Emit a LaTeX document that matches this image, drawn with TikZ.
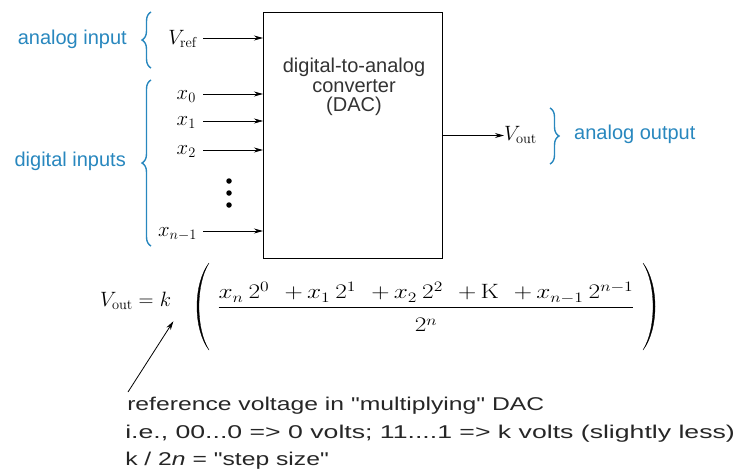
\documentclass[tikz,border=0pt]{standalone}
\usepackage{amsmath}
\usepackage{fontspec}
\setsansfont{Liberation Sans}
\usetikzlibrary{arrows.meta,decorations.pathreplacing}
\definecolor{lblue}{RGB}{40,135,190}
\tikzset{
  arr/.style={-{Stealth[length=9pt,width=5pt]}, line width=0.8pt},
  blab/.style={text=lblue, font=\sffamily\fontsize{20}{22}\selectfont, inner sep=0pt},
  brc/.style={draw=lblue, line width=1.4pt, decorate, decoration={brace, amplitude=9pt}},
  inl/.style={font=\fontsize{20.74}{24}\selectfont, inner sep=0pt, anchor=base east},
  boxtxt/.style={font=\sffamily\fontsize{20}{19.5}\selectfont, align=center, text=black!80},
  eqf/.style={font=\fontsize{20.74}{24}\selectfont, inner sep=0pt},
  note/.style={font=\sffamily\fontsize{18.5}{21}\selectfont, inner sep=0pt, anchor=base west, text=black!85},
  dotn/.style={circle, fill=black, inner sep=0pt, minimum size=5.5pt},
  paren/.style={fill=black, draw=black, line width=0.3pt}
}
\newcommand{\pl}{\hspace{0.6em}{+}\,}
\newcommand{\tm}{\hspace{0.2em}}
\begin{document}
\begin{tikzpicture}[x=1pt,y=-1pt]
\useasboundingbox (0,0) rectangle (738,474);
% DAC box
\node[draw, line width=1pt, minimum width=179, minimum height=246, anchor=north west, inner sep=0pt] (dac) at (263,12) {};
\node[boxtxt] (dactxt) at (354,87) {digital-to-analog\\converter\\(DAC)};
% inputs
\node[inl] (vref) at (197,44) {$V_{\mathrm{ref}}$};
\node[inl] (x0) at (196,99) {$x_0$};
\node[inl] (x1) at (196,125) {$x_1$};
\node[inl] (x2) at (196,154) {$x_2$};
\node[inl] (xn) at (197,236) {$x_{n-1}$};
\coordinate (a0) at (203,38);
\coordinate (a1) at (203,94);
\coordinate (a2) at (203,121);
\coordinate (a3) at (203,150);
\coordinate (a4) at (203,231);
\draw[arr] (a0) -- (a0 -| dac.west);
\draw[arr] (a1) -- (a1 -| dac.west);
\draw[arr, line width=0.5pt] (a2) -- (a2 -| dac.west);
\draw[arr] (a3) -- (a3 -| dac.west);
\draw[arr] (a4) -- (a4 -| dac.west);
\node[dotn] (d1) at (229,181) {};
\node[dotn] (d2) at (229,193) {};
\node[dotn] (d3) at (229,205) {};
% braces & labels
\coordinate (b1s) at (151,68);
\coordinate (b1e) at (151,12);
\draw[brc] (b1s) -- (b1e);
\node[blab, anchor=base east] (ain) at (127,44) {analog input};
\coordinate (b2s) at (151,246);
\coordinate (b2e) at (151,80);
\draw[brc] (b2s) -- (b2e);
\node[blab, anchor=base east] (din) at (126,166) {digital inputs};
% output
\node[inl, anchor=base west] (vout) at (504,140) {$V_{\mathrm{out}}$};
\draw[arr] (dac.east) -- (vout.west |- dac.east);
\coordinate (b3s) at (550,108);
\coordinate (b3e) at (550,164);
\draw[brc] (b3s) -- (b3e);
\node[blab, anchor=base west] (aout) at (574,139) {analog output};
% equation
\node[eqf, anchor=base west] (lhs) at (100,306) {$V_{\mathrm{out}} = {}$};
\node[eqf, anchor=base west] (kk) at (lhs.base east) {$k$};
\node[eqf, anchor=base, xscale=1.22] (frac) at (426,313) {$\dfrac{x_{n}\tm 2^{0}\pl x_{1}\tm 2^{1}\pl x_{2}\tm 2^{2}\pl\mathrm{K}\pl x_{n-1}\tm 2^{n-1}}{\rule{0pt}{21pt}2^{n}}$};
% big parentheses
\path[paren] (209,263) .. controls (193,284) and (193,329) .. (209,350)
  .. controls (195.6,329) and (195.6,284) .. (209,263) -- cycle;
\path[paren] (643,263) .. controls (659,284) and (659,329) .. (643,350)
  .. controls (656.4,329) and (656.4,284) .. (643,263) -- cycle;
% notes
\node[note, xscale=1.335] (n1) at (127,410) {reference voltage in \textquotedbl multiplying\textquotedbl{} DAC};
\node[note, xscale=1.44] (n2) at (125,438) {i.e., 00...0 => 0 volts; 11....1 => k volts (slightly less)};
\node[note, xscale=1.335] (n3) at (125,465) {k / 2\textit{n} = \textquotedbl step size\textquotedbl};
\coordinate (tail) at (128,392);
\draw[arr] (tail) -- ([xshift=8pt,yshift=-15pt]kk.south);
\end{tikzpicture}
\end{document}
